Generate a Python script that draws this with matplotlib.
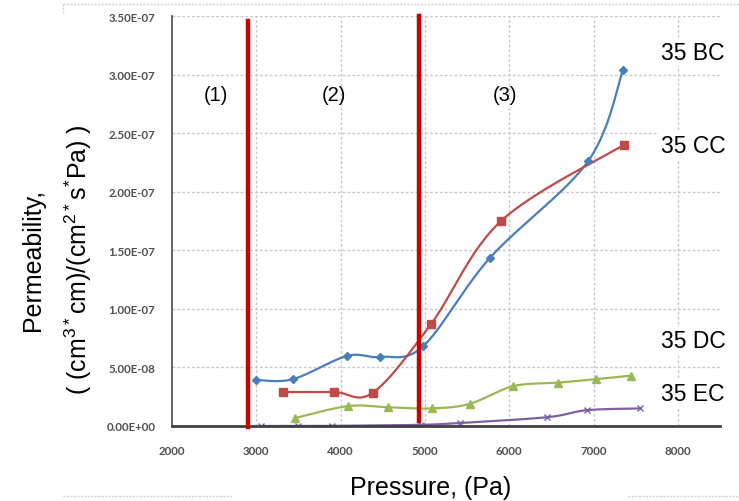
import numpy as np
import matplotlib
matplotlib.use("Agg")
import matplotlib.pyplot as plt
from matplotlib.ticker import FuncFormatter
from matplotlib.lines import Line2D

# ---- data ----
bc_x = [3000, 3435, 4076, 4467, 4977, 5772, 6935, 7350]
bc_y = [3.93e-8, 4.0e-8, 5.98e-8, 5.9e-8, 6.8e-8, 1.436e-7, 2.26e-7, 3.04e-7]
cc_x = [3317, 3922, 4384, 5072, 5903, 7362]
cc_y = [2.9e-8, 2.9e-8, 2.85e-8, 8.7e-8, 1.75e-7, 2.40e-7]
dc_x = [3459, 4088, 4562, 5084, 5535, 6045, 6580, 7030, 7445]
dc_y = [6.8e-9, 1.7e-8, 1.6e-8, 1.5e-8, 1.9e-8, 3.4e-8, 3.7e-8, 4.0e-8, 4.3e-8]
ec_x = [3050, 3500, 3900, 4950, 5420, 6450, 6920, 7550]
ec_y = [0.0, 0.0, 1.0e-10, 1.0e-9, 2.6e-9, 7.5e-9, 1.35e-8, 1.5e-8]
series_names = ["35 BC", "35 CC", "35 DC", "35 EC"]
region_bounds = [2900, 4930]
region_labels = ["(1)", "(2)", "(3)"]
x_ticks = [2000, 3000, 4000, 5000, 6000, 7000, 8000]
y_ticks = [0, 5e-8, 1e-7, 1.5e-7, 2e-7, 2.5e-7, 3e-7, 3.5e-7]


def smooth(xs, ys, n=40):
    P = np.column_stack([xs, ys]).astype(float)
    P = np.vstack([P[0], P, P[-1]])
    out = []
    t = np.linspace(0, 1, n)[:, None]
    for i in range(1, len(P) - 2):
        p0, p1, p2, p3 = P[i - 1], P[i], P[i + 1], P[i + 2]
        c1 = p1 + (p2 - p0) / 6.0
        c2 = p2 - (p3 - p1) / 6.0
        seg = ((1 - t) ** 3) * p1 + 3 * ((1 - t) ** 2) * t * c1 + 3 * (1 - t) * t ** 2 * c2 + t ** 3 * p2
        out.append(seg if i == 1 else seg[1:])
    s = np.vstack(out)
    return s[:, 0], s[:, 1]


W, H = 739, 502
fig = plt.figure(figsize=(W / 100, H / 100), dpi=100)
ax = fig.add_axes([172 / W, 1 - 427 / H, (720 - 172) / W, (427 - 17) / H])
ax.set_xlim(2000, 8500)
ax.set_ylim(0, 3.5e-7)

# grid
for xv in x_ticks[1:]:
    ax.axvline(xv, color="#c8c8c8", lw=1.0, ls=(0, (2, 1.5)), zorder=0)
for yv in y_ticks[1:]:
    ax.axhline(yv, color="#c8c8c8", lw=1.0, ls=(0, (2, 1.5)), zorder=0)

for sp in ["top", "right"]:
    ax.spines[sp].set_visible(False)
ax.spines["left"].set_color("#595959")
ax.spines["left"].set_linewidth(1.3)
ax.spines["bottom"].set_color("#404040")
ax.spines["bottom"].set_linewidth(2.0)
ax.spines["bottom"].set_zorder(5)

ax.set_xticks(x_ticks)
ax.set_yticks(y_ticks)
ax.yaxis.set_major_formatter(FuncFormatter(lambda v, p: f"{v:.2E}"))
ax.tick_params(length=0)
ax.tick_params(axis="y", pad=12)
ax.tick_params(axis="x", pad=14)
for lab in ax.get_xticklabels() + ax.get_yticklabels():
    lab.set_fontfamily("Lato")
    lab.set_fontweight("bold")
    lab.set_fontsize(8.3)
    lab.set_color("#505050")

# series
specs = [
    (bc_x, bc_y, "#4a7ebb", "D", 4, "#4a7ebb"),
    (cc_x, cc_y, "#be4b48", "s", 5.5, "#be4b48"),
    (dc_x, dc_y, "#98b954", "^", 5.5, "#98b954"),
    (ec_x, ec_y, "#7d60a0", "x", 4.5, "#7d60a0"),
]
for xs, ys, col, mk, ms, mc in specs:
    sx, sy = smooth(xs, ys)
    ax.plot(sx, sy, color=col, lw=1.6, zorder=3, solid_capstyle="round")
    ax.plot(xs, ys, ls="none", marker=mk, ms=ms, color=mc, mew=1.0, zorder=4)

# region boundaries
ax.axvline(region_bounds[0], ymin=-0.003, ymax=0.988, color="#cc0000", lw=3.2, zorder=6, clip_on=False)
ax.axvline(region_bounds[1], ymin=0.012, ymax=1.0, color="#cc0000", lw=3.2, zorder=6, clip_on=False)

# region labels
for lab, xp in zip(region_labels, [2520, 3920, 5950]):
    ax.text(xp, 2.83e-7, lab, fontsize=14.5, family="Liberation Sans", ha="center", va="center")

# series labels
fs = dict(fontsize=16.5, family="Liberation Sans", ha="center", va="center",
          bbox=dict(facecolor="white", edgecolor="none", pad=2))
for name, yp in zip(series_names, [53, 147, 342, 395]):
    fig.text(693 / W, 1 - yp / H, name, **fs)

# axis titles
plt.rcParams["mathtext.default"] = "regular"
fig.text(431 / W, 1 - 488 / H, "Pressure, (Pa)", fontsize=18, family="Liberation Sans",
         ha="center", va="center")
fig.text(33 / W, 1 - 260 / H, "Permeability,", fontsize=18, family="Liberation Sans",
         ha="center", va="center", rotation=90)
fig.text(78 / W, 1 - 260 / H, "( (cm$^{3*}$cm)/(cm$^{2*}$s$^{*}$Pa) )", fontsize=18,
         family="Liberation Sans", ha="center", va="center", rotation=90)

# outer chart border (partly hidden)
bc = dict(color="#d0d0d0", lw=1.0, ls=(0, (1.5, 1)), transform=fig.transFigure)
fig.add_artist(Line2D([63 / W, 1.0], [1 - 5 / H, 1 - 5 / H], **bc))
fig.add_artist(Line2D([63 / W, 63 / W], [1 - 5 / H, 1 - 15 / H], **bc))
fig.add_artist(Line2D([63 / W, 233 / W], [1 - 497 / H, 1 - 497 / H], **bc))
fig.add_artist(Line2D([628 / W, 1.0], [1 - 497 / H, 1 - 497 / H], **bc))

fig.savefig("out.png", dpi=100)
